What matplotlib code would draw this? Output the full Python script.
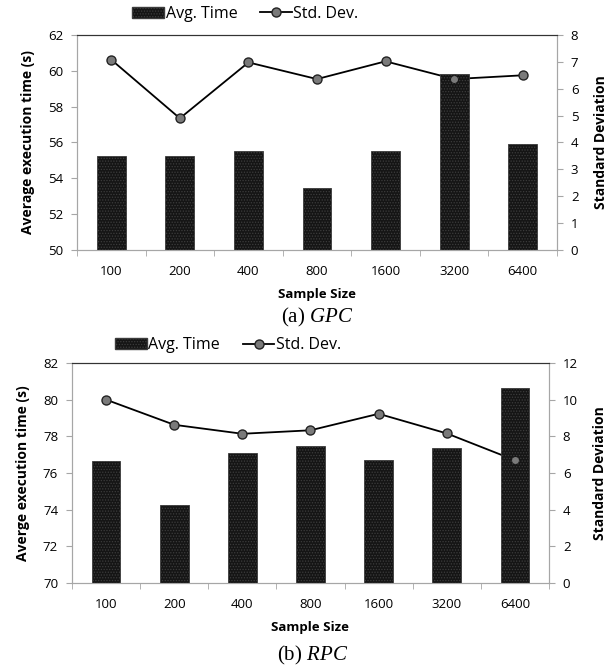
import matplotlib
matplotlib.use('Agg')
import matplotlib.pyplot as plt
import numpy as np
from matplotlib.lines import Line2D
from matplotlib.patches import Patch

matplotlib.rcParams.update({'font.family': 'Open Sans', 'font.size': 9.5,
                            'mathtext.fontset': 'custom',
                            'mathtext.it': 'Liberation Serif:italic',
                            'mathtext.rm': 'Liberation Serif',
                            'hatch.linewidth': 0.6})

sizes = ['100', '200', '400', '800', '1600', '3200', '6400']

gpc_time = [55.26, 55.22, 55.55, 53.44, 55.55, 59.85, 55.9]
gpc_std = [7.08, 4.9, 6.98, 6.36, 7.02, 6.36, 6.5]

rpc_time = [76.66, 74.25, 77.08, 77.45, 76.72, 77.37, 80.64]
rpc_std = [10.0, 8.63, 8.14, 8.33, 9.23, 8.16, 6.7]

GRID = '#a6a6a6'


def panel(rect, times, stds, ylim, ystep, slim, sstep, ylabel, legend_xy):
    ax = fig.add_axes(rect)
    ax2 = ax.twinx()
    # bars sit above the line so the line hides behind tall bars
    ax.set_zorder(ax2.get_zorder() + 1)
    ax.patch.set_visible(False)

    x = np.arange(len(sizes))
    ax.bar(x, np.array(times) - ylim[0], 0.42, bottom=ylim[0],
           color='#151515', edgecolor='#3c3c3c', hatch='......', linewidth=0.6)
    ax2.plot(x, stds, color='black', lw=1.3, marker='o', ms=6.5,
             mfc='#7a7a7a', mec='#222222', mew=1.0)
    # grey dots stay visible where a bar covers the line
    ax.plot(x, stds, ls='none', marker='o', ms=5, mfc='#7a7a7a', mec='none',
            transform=ax2.transData)

    ax.set_xlim(-0.5, len(sizes) - 0.5)
    ax.set_ylim(*ylim)
    ax.set_yticks(np.arange(ylim[0], ylim[1] + 0.1, ystep))
    ax2.set_ylim(*slim)
    ax2.set_yticks(np.arange(slim[0], slim[1] + 0.1, sstep))

    ax.set_xticks(x)
    ax.set_xticklabels(sizes)
    ax.set_xticks(np.arange(-0.5, len(sizes)), minor=True)
    ax.tick_params(axis='x', which='major', length=0, pad=11)
    ax.tick_params(axis='x', which='minor', length=4, color=GRID, direction='out')
    ax.tick_params(axis='y', length=4, color=GRID, pad=6)
    ax2.tick_params(axis='y', length=4, color=GRID, pad=6)

    for a in (ax, ax2):
        for s in ('left', 'right', 'bottom'):
            a.spines[s].set_color(GRID)
        a.spines['top'].set_color('#333333')

    ax.set_xlabel('Sample Size', fontweight='bold', fontsize=9.5, labelpad=7)
    ax.set_ylabel(ylabel, fontweight='bold', fontsize=10, labelpad=9)
    ax2.set_ylabel('Standard Deviation', fontweight='bold', fontsize=10, labelpad=11)

    handles = [Patch(facecolor='#151515', edgecolor='#3c3c3c', hatch='......'),
               Line2D([], [], color='black', lw=1.3, marker='o', ms=6.5,
                      mfc='#7a7a7a', mec='#222222')]
    fig.legend(handles, ['Avg. Time', 'Std. Dev.'], loc='center',
               bbox_to_anchor=legend_xy, ncol=2, frameon=False, fontsize=11.5,
               handlelength=2.0, handletextpad=0.1, columnspacing=1.4)
    return ax


fig = plt.figure(figsize=(6.13, 6.69), dpi=100)

panel([0.1256, 0.6263, 0.783, 0.3214], gpc_time, gpc_std, (50, 62), 2, (0, 8), 1,
      'Average execution time (s)', (0.40, 0.979))
panel([0.1175, 0.1285, 0.778, 0.3289], rpc_time, rpc_std, (70, 82), 2, (0, 12), 2,
      'Averge execution time (s)', (0.372, 0.484))

fig.text(0.517, 1 - 317 / 669, r'(a) $\mathit{GPC}$', ha='center', va='center',
         family='Liberation Serif', fontsize=15)
fig.text(0.51, 1 - 655 / 669, r'(b) $\mathit{RPC}$', ha='center', va='center',
         family='Liberation Serif', fontsize=15)

fig.savefig('out.png', dpi=100)
